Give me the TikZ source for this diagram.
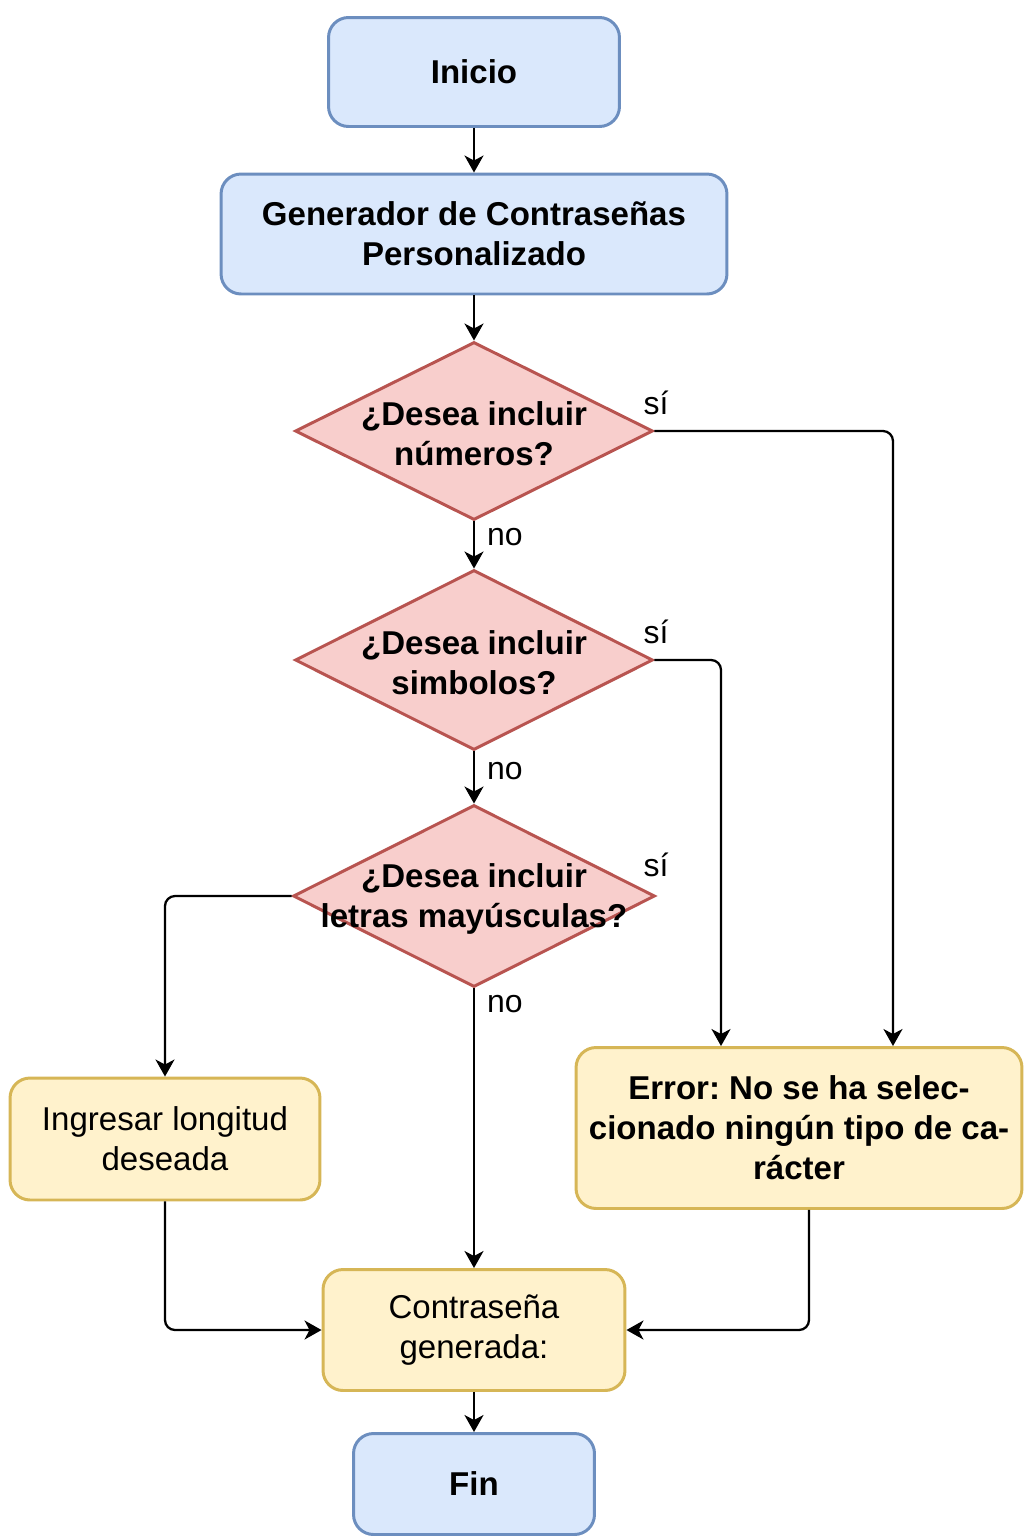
\documentclass[tikz,border=0pt]{standalone}
\usepackage{fontspec}
\setmainfont{Liberation Sans}
\usetikzlibrary{shapes.geometric, arrows.meta}
\definecolor{bluefill}{HTML}{DAE8FC}
\definecolor{bluedraw}{HTML}{6C8EBF}
\definecolor{redfill}{HTML}{F8CECC}
\definecolor{reddraw}{HTML}{B85450}
\definecolor{yellowfill}{HTML}{FFF2CC}
\definecolor{yellowdraw}{HTML}{D6B656}
\tikzstyle{startstop} = [rectangle, rounded corners=0.4cm, draw=bluedraw, fill=bluefill, line width=1.7pt, align=center, font=\bfseries\fontsize{18.8}{22.8}\selectfont]
\tikzstyle{process} = [rectangle, rounded corners=0.4cm, draw=yellowdraw, fill=yellowfill, line width=1.7pt, align=center, font=\fontsize{18.8}{22.8}\selectfont]
\tikzstyle{decision} = [diamond, draw=reddraw, fill=redfill, line width=1.7pt, inner sep=0pt]
\tikzstyle{question} = [draw=none, fill=none, align=center, text=black, yshift=-0.05cm, font=\bfseries\fontsize{18.8}{22.8}\selectfont]
\tikzstyle{answer} = [font=\fontsize{18.2}{22}\selectfont]
\tikzstyle{arrow} = [line width=1.3pt,->,>={Stealth[length=0.34cm,width=0.38cm,inset=0.1cm]},rounded corners=0.2cm]
\frenchspacing

\begin{document}
\begin{tikzpicture}[x=0.02cm,y=-0.02cm]
	\useasboundingbox (0,0) rectangle (1024,1536);
	\node[startstop,minimum width=5.82cm,minimum height=2.18cm] (inicio) at (474,72) {Inicio};
	\node[startstop,minimum width=10.12cm,minimum height=2.4cm] (gen) at (474,234) {Generador de Contraseñas\\Personalizado};
	\node[decision,minimum width=7.16cm,minimum height=3.56cm,label={[question]center:¿Desea incluir\\números?}] (num) at (474,431) {};
	\node[decision,minimum width=7.16cm,minimum height=3.6cm,label={[question]center:¿Desea incluir\\simbolos?}] (sim) at (474,660) {};
	\node[decision,minimum width=7.24cm,minimum height=3.64cm,label={[question]center:¿Desea incluir\\letras mayúsculas?}] (may) at (474,896) {};
	\node[process,minimum width=6.2cm,minimum height=2.44cm] (long) at (165,1139) {Ingresar longitud\\deseada};
	\node[process,minimum width=8.92cm,minimum height=3.22cm,font=\bfseries\fontsize{18.8}{22.8}\selectfont] (error) at (799,1128) {Error: No se ha selec-\\cionado ningún tipo de ca-\\rácter};
	\node[process,minimum width=6.04cm,minimum height=2.42cm] (pass) at (474,1330) {Contraseña\\generada:};
	\node[startstop,minimum width=4.82cm,minimum height=2.02cm] (fin) at (474,1484) {Fin};
	% respuestas
	\node[answer] (si num) at (656,403) {sí};
	\node[answer] (no num) at (505,537) {no};
	\node[answer] (si sim) at (656,632) {sí};
	\node[answer] (no sim) at (505,771) {no};
	\node[answer] (si may) at (656,865) {sí};
	\node[answer] (no may) at (505,1004) {no};
	% flechas
	\draw[arrow] (inicio) -- (gen);
	\draw[arrow] (gen) -- (num);
	\draw[arrow] (num) -- (sim);
	\draw[arrow] (sim) -- (may);
	\draw[arrow] (may) -- (pass);
	\draw[arrow] (num.east) -| ([xshift=1.88cm]error.north);
	\draw[arrow] (sim.east) -| ([xshift=-1.56cm]error.north);
	\draw[arrow] (may.west) -| (long.north);
	\draw[arrow] (long.south) |- (pass.west);
	\draw[arrow] ([xshift=0.2cm]error.south) |- (pass.east);
	\draw[arrow] (pass) -- (fin);
\end{tikzpicture}
\end{document}
